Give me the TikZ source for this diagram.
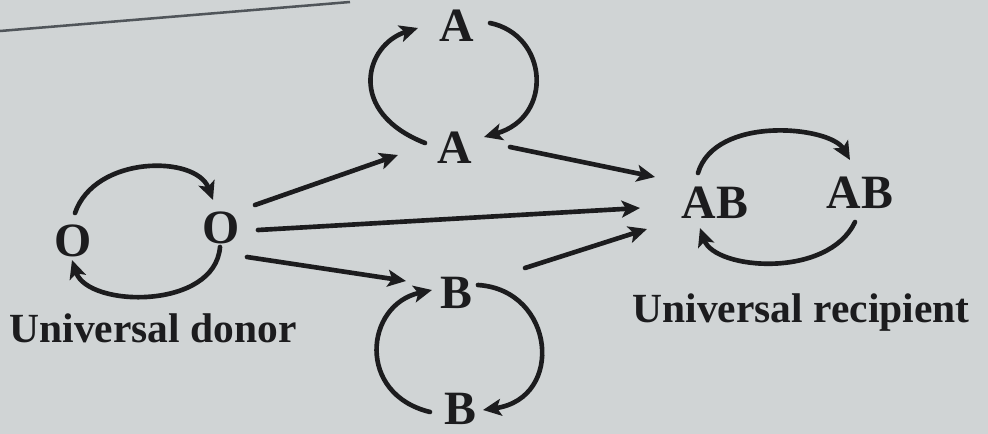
\documentclass[tikz,border=0pt]{standalone}
\usepackage{fontspec}
\setmainfont{Liberation Serif}
\usetikzlibrary{arrows.meta,calc}
\definecolor{paper}{RGB}{208,212,213}
\definecolor{ink}{RGB}{28,28,30}
\definecolor{rule}{RGB}{80,85,90}
\tikzset{
  letter/.style={inner sep=0pt, text height=22pt, text depth=0pt, text=ink,
    font=\fontsize{34}{36}\selectfont\bfseries},
  caption/.style={anchor=base, inner sep=0pt, text=ink,
    font=\fontsize{29.5}{31}\selectfont\bfseries},
  arr/.style={draw=ink, line width=3.3pt, line cap=round,
    -{Stealth[length=13pt,width=12pt,inset=3pt]}}
}
\begin{document}
\begin{tikzpicture}[x=0.025cm,y=-0.025cm]
\fill[paper] (0,0) rectangle (988,434);
\useasboundingbox (0,0) rectangle (988,434);
\draw[rule, line width=1.8pt] (0,31) -- (350,2);

% nodes
\node[letter] (Ol)  at (73,241)  {O};
\node[letter] (Or)  at (221,228) {O};
\node[letter] (At)  at (457,26)  {A};
\node[letter] (Am)  at (455,148) {A};
\node[letter] (Bt)  at (456,293) {B};
\node[letter] (Bb)  at (460,409) {B};
\node[letter] (ABl) at (715,203) {AB};
\node[letter] (ABr) at (860,193) {AB};
\node[caption] (don) at (153,342) {Universal donor};
\node[caption] (rec) at (801,322) {Universal recipient};

% O <-> O
\draw[arr] ($(Ol)+(2,-28)$) .. controls (95,155) and (196,155) .. ($(Or)+(-8,-28)$);
\draw[arr] ($(Or)+(-1,19)$) .. controls (215,310) and (88,308) .. ($(Ol)+(-1,19)$);

% O -> others
\draw[arr] ($(Or)+(34,-23)$) -- ($(Am)+(-57,7)$);
\draw[arr] ($(Or)+(37,2)$) -- ($(ABl)+(-75,5)$);
\draw[arr] ($(Or)+(26,29)$) -- ($(Bt)+(-50,-12)$);

% A, B -> AB
\draw[arr] ($(Am)+(55,-1)$) -- ($(ABl)+(-60,-26)$);
\draw[arr] ($(Bt)+(69,-25)$) -- ($(ABl)+(-68,26)$);

% A <-> A
\draw[arr] ($(Am)+(-30,-5)$) .. controls (346,112) and (365,45) .. ($(At)+(-39,2)$);
\draw[arr] ($(At)+(33,-3)$) .. controls (548,35) and (554,117) .. ($(Am)+(29,-11)$);

% B <-> B
\draw[arr] ($(Bb)+(-30,3)$) .. controls (356,394) and (365,305) .. ($(Bt)+(-24,-3)$);
\draw[arr] ($(Bt)+(22,-8)$) .. controls (555,290) and (565,398) .. ($(Bb)+(23,1)$);

% AB <-> AB
\draw[arr] ($(ABl)+(-17,-30)$) .. controls (715,115) and (830,126) .. ($(ABr)+(-10,-33)$);
\draw[arr] ($(ABr)+(-5,29)$) .. controls (828,279) and (715,270) .. ($(ABl)+(-15,25)$);
\end{tikzpicture}
\end{document}
